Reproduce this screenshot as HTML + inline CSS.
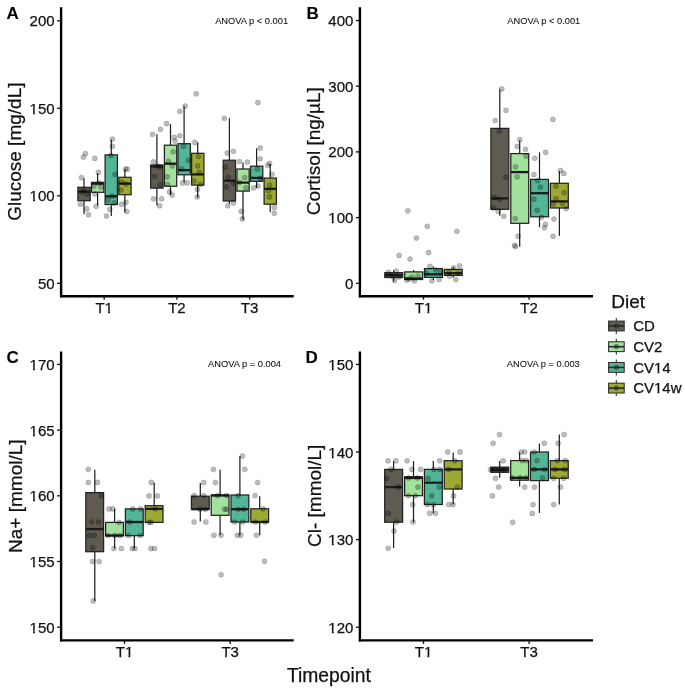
<!DOCTYPE html><html><head><meta charset="utf-8"><style>html,body{margin:0;padding:0;background:#fff;}svg{display:block;will-change:transform;}text{font-family:"Liberation Sans", sans-serif;stroke:#111;stroke-width:0.25px;}</style></head><body>
<svg width="685" height="690" viewBox="0 0 685 690">
<rect width="685" height="690" fill="#fff"/>
<line x1="84.0" y1="178.2" x2="84.0" y2="187.3" stroke="#222" stroke-width="1.25"/>
<line x1="84.0" y1="200.7" x2="84.0" y2="214.2" stroke="#222" stroke-width="1.25"/>
<rect x="77.9" y="187.3" width="12.3" height="13.4" fill="#5f5b51" stroke="#222" stroke-width="1.25"/>
<line x1="77.9" y1="191.6" x2="90.1" y2="191.6" stroke="#1c1c1c" stroke-width="2.3"/>
<line x1="97.6" y1="173.2" x2="97.6" y2="182.4" stroke="#222" stroke-width="1.25"/>
<line x1="97.6" y1="192.3" x2="97.6" y2="205.6" stroke="#222" stroke-width="1.25"/>
<rect x="91.5" y="182.4" width="12.3" height="9.9" fill="#a2e29c" stroke="#222" stroke-width="1.25"/>
<line x1="91.5" y1="183.6" x2="103.8" y2="183.6" stroke="#1c1c1c" stroke-width="2.3"/>
<line x1="111.3" y1="139.8" x2="111.3" y2="154.9" stroke="#222" stroke-width="1.25"/>
<line x1="111.3" y1="204.5" x2="111.3" y2="216.0" stroke="#222" stroke-width="1.25"/>
<rect x="105.1" y="154.9" width="12.3" height="49.6" fill="#52b598" stroke="#222" stroke-width="1.25"/>
<line x1="105.1" y1="196.3" x2="117.4" y2="196.3" stroke="#1c1c1c" stroke-width="2.3"/>
<line x1="124.9" y1="169.2" x2="124.9" y2="177.3" stroke="#222" stroke-width="1.25"/>
<line x1="124.9" y1="194.7" x2="124.9" y2="212.2" stroke="#222" stroke-width="1.25"/>
<rect x="118.8" y="177.3" width="12.3" height="17.4" fill="#9ea934" stroke="#222" stroke-width="1.25"/>
<line x1="118.8" y1="183.6" x2="131.0" y2="183.6" stroke="#1c1c1c" stroke-width="2.3"/>
<line x1="156.9" y1="134.3" x2="156.9" y2="165.0" stroke="#222" stroke-width="1.25"/>
<line x1="156.9" y1="188.1" x2="156.9" y2="205.4" stroke="#222" stroke-width="1.25"/>
<rect x="150.7" y="165.0" width="12.3" height="23.1" fill="#5f5b51" stroke="#222" stroke-width="1.25"/>
<line x1="150.7" y1="166.5" x2="163.0" y2="166.5" stroke="#1c1c1c" stroke-width="2.3"/>
<line x1="170.5" y1="124.0" x2="170.5" y2="145.2" stroke="#222" stroke-width="1.25"/>
<line x1="170.5" y1="186.2" x2="170.5" y2="195.1" stroke="#222" stroke-width="1.25"/>
<rect x="164.4" y="145.2" width="12.3" height="41.0" fill="#a2e29c" stroke="#222" stroke-width="1.25"/>
<line x1="164.4" y1="163.7" x2="176.6" y2="163.7" stroke="#1c1c1c" stroke-width="2.3"/>
<line x1="184.1" y1="106.3" x2="184.1" y2="143.7" stroke="#222" stroke-width="1.25"/>
<line x1="184.1" y1="174.8" x2="184.1" y2="182.3" stroke="#222" stroke-width="1.25"/>
<rect x="178.0" y="143.7" width="12.3" height="31.1" fill="#52b598" stroke="#222" stroke-width="1.25"/>
<line x1="178.0" y1="170.1" x2="190.2" y2="170.1" stroke="#1c1c1c" stroke-width="2.3"/>
<line x1="197.7" y1="142.4" x2="197.7" y2="153.3" stroke="#222" stroke-width="1.25"/>
<line x1="197.7" y1="185.1" x2="197.7" y2="197.5" stroke="#222" stroke-width="1.25"/>
<rect x="191.6" y="153.3" width="12.3" height="31.8" fill="#9ea934" stroke="#222" stroke-width="1.25"/>
<line x1="191.6" y1="174.4" x2="203.9" y2="174.4" stroke="#1c1c1c" stroke-width="2.3"/>
<line x1="229.4" y1="118.2" x2="229.4" y2="160.2" stroke="#222" stroke-width="1.25"/>
<line x1="229.4" y1="201.0" x2="229.4" y2="203.8" stroke="#222" stroke-width="1.25"/>
<rect x="223.2" y="160.2" width="12.3" height="40.8" fill="#5f5b51" stroke="#222" stroke-width="1.25"/>
<line x1="223.2" y1="180.7" x2="235.5" y2="180.7" stroke="#1c1c1c" stroke-width="2.3"/>
<line x1="243.0" y1="162.5" x2="243.0" y2="169.0" stroke="#222" stroke-width="1.25"/>
<line x1="243.0" y1="191.1" x2="243.0" y2="219.8" stroke="#222" stroke-width="1.25"/>
<rect x="236.9" y="169.0" width="12.3" height="22.1" fill="#a2e29c" stroke="#222" stroke-width="1.25"/>
<line x1="236.9" y1="182.6" x2="249.1" y2="182.6" stroke="#1c1c1c" stroke-width="2.3"/>
<line x1="256.6" y1="148.3" x2="256.6" y2="166.2" stroke="#222" stroke-width="1.25"/>
<line x1="256.6" y1="181.3" x2="256.6" y2="187.9" stroke="#222" stroke-width="1.25"/>
<rect x="250.5" y="166.2" width="12.3" height="15.1" fill="#52b598" stroke="#222" stroke-width="1.25"/>
<line x1="250.5" y1="177.9" x2="262.7" y2="177.9" stroke="#1c1c1c" stroke-width="2.3"/>
<line x1="270.2" y1="164.0" x2="270.2" y2="178.1" stroke="#222" stroke-width="1.25"/>
<line x1="270.2" y1="204.2" x2="270.2" y2="212.3" stroke="#222" stroke-width="1.25"/>
<rect x="264.1" y="178.1" width="12.3" height="26.1" fill="#9ea934" stroke="#222" stroke-width="1.25"/>
<line x1="264.1" y1="188.8" x2="276.4" y2="188.8" stroke="#1c1c1c" stroke-width="2.3"/>
<circle cx="85.4" cy="153.5" r="2.55" fill="#000" fill-opacity="0.26" stroke="#000" stroke-opacity="0.18" stroke-width="0.8"/>
<circle cx="83.4" cy="157.1" r="2.55" fill="#000" fill-opacity="0.26" stroke="#000" stroke-opacity="0.18" stroke-width="0.8"/>
<circle cx="81.5" cy="177.6" r="2.55" fill="#000" fill-opacity="0.26" stroke="#000" stroke-opacity="0.18" stroke-width="0.8"/>
<circle cx="80.4" cy="204.3" r="2.55" fill="#000" fill-opacity="0.26" stroke="#000" stroke-opacity="0.18" stroke-width="0.8"/>
<circle cx="86.7" cy="208.9" r="2.55" fill="#000" fill-opacity="0.26" stroke="#000" stroke-opacity="0.18" stroke-width="0.8"/>
<circle cx="88.5" cy="214.7" r="2.55" fill="#000" fill-opacity="0.26" stroke="#000" stroke-opacity="0.18" stroke-width="0.8"/>
<circle cx="82.0" cy="192.0" r="2.55" fill="#000" fill-opacity="0.26" stroke="#000" stroke-opacity="0.18" stroke-width="0.8"/>
<circle cx="87.0" cy="194.0" r="2.55" fill="#000" fill-opacity="0.26" stroke="#000" stroke-opacity="0.18" stroke-width="0.8"/>
<circle cx="84.0" cy="190.0" r="2.55" fill="#000" fill-opacity="0.26" stroke="#000" stroke-opacity="0.18" stroke-width="0.8"/>
<circle cx="94.8" cy="158.4" r="2.55" fill="#000" fill-opacity="0.26" stroke="#000" stroke-opacity="0.18" stroke-width="0.8"/>
<circle cx="98.4" cy="172.4" r="2.55" fill="#000" fill-opacity="0.26" stroke="#000" stroke-opacity="0.18" stroke-width="0.8"/>
<circle cx="96.1" cy="206.3" r="2.55" fill="#000" fill-opacity="0.26" stroke="#000" stroke-opacity="0.18" stroke-width="0.8"/>
<circle cx="94.0" cy="186.0" r="2.55" fill="#000" fill-opacity="0.26" stroke="#000" stroke-opacity="0.18" stroke-width="0.8"/>
<circle cx="99.0" cy="183.0" r="2.55" fill="#000" fill-opacity="0.26" stroke="#000" stroke-opacity="0.18" stroke-width="0.8"/>
<circle cx="95.0" cy="194.0" r="2.55" fill="#000" fill-opacity="0.26" stroke="#000" stroke-opacity="0.18" stroke-width="0.8"/>
<circle cx="101.0" cy="187.0" r="2.55" fill="#000" fill-opacity="0.26" stroke="#000" stroke-opacity="0.18" stroke-width="0.8"/>
<circle cx="112.4" cy="139.1" r="2.55" fill="#000" fill-opacity="0.26" stroke="#000" stroke-opacity="0.18" stroke-width="0.8"/>
<circle cx="112.4" cy="146.3" r="2.55" fill="#000" fill-opacity="0.26" stroke="#000" stroke-opacity="0.18" stroke-width="0.8"/>
<circle cx="115.0" cy="174.3" r="2.55" fill="#000" fill-opacity="0.26" stroke="#000" stroke-opacity="0.18" stroke-width="0.8"/>
<circle cx="109.8" cy="209.5" r="2.55" fill="#000" fill-opacity="0.26" stroke="#000" stroke-opacity="0.18" stroke-width="0.8"/>
<circle cx="106.5" cy="216.0" r="2.55" fill="#000" fill-opacity="0.26" stroke="#000" stroke-opacity="0.18" stroke-width="0.8"/>
<circle cx="111.0" cy="155.5" r="2.55" fill="#000" fill-opacity="0.26" stroke="#000" stroke-opacity="0.18" stroke-width="0.8"/>
<circle cx="108.0" cy="200.0" r="2.55" fill="#000" fill-opacity="0.26" stroke="#000" stroke-opacity="0.18" stroke-width="0.8"/>
<circle cx="114.0" cy="203.0" r="2.55" fill="#000" fill-opacity="0.26" stroke="#000" stroke-opacity="0.18" stroke-width="0.8"/>
<circle cx="112.0" cy="196.0" r="2.55" fill="#000" fill-opacity="0.26" stroke="#000" stroke-opacity="0.18" stroke-width="0.8"/>
<circle cx="125.4" cy="169.1" r="2.55" fill="#000" fill-opacity="0.26" stroke="#000" stroke-opacity="0.18" stroke-width="0.8"/>
<circle cx="127.4" cy="169.1" r="2.55" fill="#000" fill-opacity="0.26" stroke="#000" stroke-opacity="0.18" stroke-width="0.8"/>
<circle cx="121.5" cy="204.3" r="2.55" fill="#000" fill-opacity="0.26" stroke="#000" stroke-opacity="0.18" stroke-width="0.8"/>
<circle cx="126.0" cy="202.3" r="2.55" fill="#000" fill-opacity="0.26" stroke="#000" stroke-opacity="0.18" stroke-width="0.8"/>
<circle cx="126.7" cy="211.5" r="2.55" fill="#000" fill-opacity="0.26" stroke="#000" stroke-opacity="0.18" stroke-width="0.8"/>
<circle cx="122.0" cy="182.0" r="2.55" fill="#000" fill-opacity="0.26" stroke="#000" stroke-opacity="0.18" stroke-width="0.8"/>
<circle cx="126.0" cy="184.0" r="2.55" fill="#000" fill-opacity="0.26" stroke="#000" stroke-opacity="0.18" stroke-width="0.8"/>
<circle cx="121.0" cy="190.0" r="2.55" fill="#000" fill-opacity="0.26" stroke="#000" stroke-opacity="0.18" stroke-width="0.8"/>
<circle cx="152.5" cy="134.3" r="2.55" fill="#000" fill-opacity="0.26" stroke="#000" stroke-opacity="0.18" stroke-width="0.8"/>
<circle cx="160.4" cy="129.2" r="2.55" fill="#000" fill-opacity="0.26" stroke="#000" stroke-opacity="0.18" stroke-width="0.8"/>
<circle cx="166.6" cy="123.6" r="2.55" fill="#000" fill-opacity="0.26" stroke="#000" stroke-opacity="0.18" stroke-width="0.8"/>
<circle cx="179.8" cy="111.3" r="2.55" fill="#000" fill-opacity="0.26" stroke="#000" stroke-opacity="0.18" stroke-width="0.8"/>
<circle cx="185.1" cy="106.1" r="2.55" fill="#000" fill-opacity="0.26" stroke="#000" stroke-opacity="0.18" stroke-width="0.8"/>
<circle cx="196.2" cy="93.8" r="2.55" fill="#000" fill-opacity="0.26" stroke="#000" stroke-opacity="0.18" stroke-width="0.8"/>
<circle cx="174.2" cy="137.3" r="2.55" fill="#000" fill-opacity="0.26" stroke="#000" stroke-opacity="0.18" stroke-width="0.8"/>
<circle cx="175.1" cy="141.1" r="2.55" fill="#000" fill-opacity="0.26" stroke="#000" stroke-opacity="0.18" stroke-width="0.8"/>
<circle cx="179.8" cy="135.8" r="2.55" fill="#000" fill-opacity="0.26" stroke="#000" stroke-opacity="0.18" stroke-width="0.8"/>
<circle cx="194.9" cy="142.4" r="2.55" fill="#000" fill-opacity="0.26" stroke="#000" stroke-opacity="0.18" stroke-width="0.8"/>
<circle cx="153.5" cy="161.8" r="2.55" fill="#000" fill-opacity="0.26" stroke="#000" stroke-opacity="0.18" stroke-width="0.8"/>
<circle cx="153.5" cy="198.8" r="2.55" fill="#000" fill-opacity="0.26" stroke="#000" stroke-opacity="0.18" stroke-width="0.8"/>
<circle cx="161.6" cy="198.8" r="2.55" fill="#000" fill-opacity="0.26" stroke="#000" stroke-opacity="0.18" stroke-width="0.8"/>
<circle cx="159.7" cy="205.8" r="2.55" fill="#000" fill-opacity="0.26" stroke="#000" stroke-opacity="0.18" stroke-width="0.8"/>
<circle cx="169.5" cy="191.9" r="2.55" fill="#000" fill-opacity="0.26" stroke="#000" stroke-opacity="0.18" stroke-width="0.8"/>
<circle cx="172.3" cy="195.1" r="2.55" fill="#000" fill-opacity="0.26" stroke="#000" stroke-opacity="0.18" stroke-width="0.8"/>
<circle cx="182.6" cy="182.9" r="2.55" fill="#000" fill-opacity="0.26" stroke="#000" stroke-opacity="0.18" stroke-width="0.8"/>
<circle cx="187.3" cy="182.9" r="2.55" fill="#000" fill-opacity="0.26" stroke="#000" stroke-opacity="0.18" stroke-width="0.8"/>
<circle cx="197.3" cy="197.0" r="2.55" fill="#000" fill-opacity="0.26" stroke="#000" stroke-opacity="0.18" stroke-width="0.8"/>
<circle cx="197.3" cy="189.4" r="2.55" fill="#000" fill-opacity="0.26" stroke="#000" stroke-opacity="0.18" stroke-width="0.8"/>
<circle cx="154.4" cy="176.3" r="2.55" fill="#000" fill-opacity="0.26" stroke="#000" stroke-opacity="0.18" stroke-width="0.8"/>
<circle cx="160.1" cy="184.7" r="2.55" fill="#000" fill-opacity="0.26" stroke="#000" stroke-opacity="0.18" stroke-width="0.8"/>
<circle cx="173.2" cy="151.8" r="2.55" fill="#000" fill-opacity="0.26" stroke="#000" stroke-opacity="0.18" stroke-width="0.8"/>
<circle cx="168.5" cy="161.2" r="2.55" fill="#000" fill-opacity="0.26" stroke="#000" stroke-opacity="0.18" stroke-width="0.8"/>
<circle cx="172.3" cy="165.9" r="2.55" fill="#000" fill-opacity="0.26" stroke="#000" stroke-opacity="0.18" stroke-width="0.8"/>
<circle cx="167.2" cy="176.8" r="2.55" fill="#000" fill-opacity="0.26" stroke="#000" stroke-opacity="0.18" stroke-width="0.8"/>
<circle cx="167.6" cy="184.4" r="2.55" fill="#000" fill-opacity="0.26" stroke="#000" stroke-opacity="0.18" stroke-width="0.8"/>
<circle cx="183.6" cy="146.2" r="2.55" fill="#000" fill-opacity="0.26" stroke="#000" stroke-opacity="0.18" stroke-width="0.8"/>
<circle cx="188.3" cy="160.3" r="2.55" fill="#000" fill-opacity="0.26" stroke="#000" stroke-opacity="0.18" stroke-width="0.8"/>
<circle cx="181.7" cy="168.7" r="2.55" fill="#000" fill-opacity="0.26" stroke="#000" stroke-opacity="0.18" stroke-width="0.8"/>
<circle cx="198.6" cy="156.5" r="2.55" fill="#000" fill-opacity="0.26" stroke="#000" stroke-opacity="0.18" stroke-width="0.8"/>
<circle cx="197.7" cy="165.9" r="2.55" fill="#000" fill-opacity="0.26" stroke="#000" stroke-opacity="0.18" stroke-width="0.8"/>
<circle cx="199.2" cy="172.5" r="2.55" fill="#000" fill-opacity="0.26" stroke="#000" stroke-opacity="0.18" stroke-width="0.8"/>
<circle cx="193.9" cy="181.0" r="2.55" fill="#000" fill-opacity="0.26" stroke="#000" stroke-opacity="0.18" stroke-width="0.8"/>
<circle cx="200.5" cy="184.4" r="2.55" fill="#000" fill-opacity="0.26" stroke="#000" stroke-opacity="0.18" stroke-width="0.8"/>
<circle cx="157.0" cy="166.0" r="2.55" fill="#000" fill-opacity="0.26" stroke="#000" stroke-opacity="0.18" stroke-width="0.8"/>
<circle cx="160.0" cy="167.0" r="2.55" fill="#000" fill-opacity="0.26" stroke="#000" stroke-opacity="0.18" stroke-width="0.8"/>
<circle cx="224.4" cy="118.2" r="2.55" fill="#000" fill-opacity="0.26" stroke="#000" stroke-opacity="0.18" stroke-width="0.8"/>
<circle cx="257.9" cy="102.6" r="2.55" fill="#000" fill-opacity="0.26" stroke="#000" stroke-opacity="0.18" stroke-width="0.8"/>
<circle cx="227.2" cy="153.0" r="2.55" fill="#000" fill-opacity="0.26" stroke="#000" stroke-opacity="0.18" stroke-width="0.8"/>
<circle cx="233.4" cy="151.2" r="2.55" fill="#000" fill-opacity="0.26" stroke="#000" stroke-opacity="0.18" stroke-width="0.8"/>
<circle cx="239.5" cy="161.5" r="2.55" fill="#000" fill-opacity="0.26" stroke="#000" stroke-opacity="0.18" stroke-width="0.8"/>
<circle cx="247.4" cy="162.1" r="2.55" fill="#000" fill-opacity="0.26" stroke="#000" stroke-opacity="0.18" stroke-width="0.8"/>
<circle cx="260.2" cy="148.0" r="2.55" fill="#000" fill-opacity="0.26" stroke="#000" stroke-opacity="0.18" stroke-width="0.8"/>
<circle cx="260.2" cy="158.7" r="2.55" fill="#000" fill-opacity="0.26" stroke="#000" stroke-opacity="0.18" stroke-width="0.8"/>
<circle cx="267.7" cy="165.3" r="2.55" fill="#000" fill-opacity="0.26" stroke="#000" stroke-opacity="0.18" stroke-width="0.8"/>
<circle cx="269.6" cy="163.4" r="2.55" fill="#000" fill-opacity="0.26" stroke="#000" stroke-opacity="0.18" stroke-width="0.8"/>
<circle cx="272.0" cy="174.3" r="2.55" fill="#000" fill-opacity="0.26" stroke="#000" stroke-opacity="0.18" stroke-width="0.8"/>
<circle cx="227.8" cy="205.7" r="2.55" fill="#000" fill-opacity="0.26" stroke="#000" stroke-opacity="0.18" stroke-width="0.8"/>
<circle cx="233.4" cy="202.9" r="2.55" fill="#000" fill-opacity="0.26" stroke="#000" stroke-opacity="0.18" stroke-width="0.8"/>
<circle cx="241.3" cy="211.4" r="2.55" fill="#000" fill-opacity="0.26" stroke="#000" stroke-opacity="0.18" stroke-width="0.8"/>
<circle cx="242.3" cy="218.9" r="2.55" fill="#000" fill-opacity="0.26" stroke="#000" stroke-opacity="0.18" stroke-width="0.8"/>
<circle cx="253.6" cy="187.9" r="2.55" fill="#000" fill-opacity="0.26" stroke="#000" stroke-opacity="0.18" stroke-width="0.8"/>
<circle cx="257.9" cy="186.0" r="2.55" fill="#000" fill-opacity="0.26" stroke="#000" stroke-opacity="0.18" stroke-width="0.8"/>
<circle cx="274.3" cy="207.6" r="2.55" fill="#000" fill-opacity="0.26" stroke="#000" stroke-opacity="0.18" stroke-width="0.8"/>
<circle cx="274.3" cy="213.3" r="2.55" fill="#000" fill-opacity="0.26" stroke="#000" stroke-opacity="0.18" stroke-width="0.8"/>
<circle cx="225.3" cy="167.2" r="2.55" fill="#000" fill-opacity="0.26" stroke="#000" stroke-opacity="0.18" stroke-width="0.8"/>
<circle cx="228.2" cy="177.5" r="2.55" fill="#000" fill-opacity="0.26" stroke="#000" stroke-opacity="0.18" stroke-width="0.8"/>
<circle cx="226.3" cy="186.9" r="2.55" fill="#000" fill-opacity="0.26" stroke="#000" stroke-opacity="0.18" stroke-width="0.8"/>
<circle cx="233.4" cy="183.2" r="2.55" fill="#000" fill-opacity="0.26" stroke="#000" stroke-opacity="0.18" stroke-width="0.8"/>
<circle cx="244.7" cy="177.5" r="2.55" fill="#000" fill-opacity="0.26" stroke="#000" stroke-opacity="0.18" stroke-width="0.8"/>
<circle cx="239.5" cy="182.2" r="2.55" fill="#000" fill-opacity="0.26" stroke="#000" stroke-opacity="0.18" stroke-width="0.8"/>
<circle cx="246.0" cy="187.9" r="2.55" fill="#000" fill-opacity="0.26" stroke="#000" stroke-opacity="0.18" stroke-width="0.8"/>
<circle cx="257.3" cy="169.0" r="2.55" fill="#000" fill-opacity="0.26" stroke="#000" stroke-opacity="0.18" stroke-width="0.8"/>
<circle cx="260.2" cy="178.4" r="2.55" fill="#000" fill-opacity="0.26" stroke="#000" stroke-opacity="0.18" stroke-width="0.8"/>
<circle cx="269.6" cy="185.0" r="2.55" fill="#000" fill-opacity="0.26" stroke="#000" stroke-opacity="0.18" stroke-width="0.8"/>
<circle cx="269.6" cy="196.9" r="2.55" fill="#000" fill-opacity="0.26" stroke="#000" stroke-opacity="0.18" stroke-width="0.8"/>
<circle cx="268.6" cy="190.7" r="2.55" fill="#000" fill-opacity="0.26" stroke="#000" stroke-opacity="0.18" stroke-width="0.8"/>
<line x1="61.1" y1="7.2" x2="61.1" y2="297.2" stroke="#000" stroke-width="2.4"/>
<line x1="60.1" y1="296.2" x2="293.7" y2="296.2" stroke="#000" stroke-width="2.4"/>
<line x1="57.1" y1="283.3" x2="61.1" y2="283.3" stroke="#111" stroke-width="1.3"/>
<text transform="translate(54.6,288.8)" font-size="15" text-anchor="end" fill="#111">50</text>
<line x1="57.1" y1="195.8" x2="61.1" y2="195.8" stroke="#111" stroke-width="1.3"/>
<text transform="translate(54.6,201.3)" font-size="15" text-anchor="end" fill="#111">100</text>
<line x1="57.1" y1="108.3" x2="61.1" y2="108.3" stroke="#111" stroke-width="1.3"/>
<text transform="translate(54.6,113.8)" font-size="15" text-anchor="end" fill="#111">150</text>
<line x1="57.1" y1="20.8" x2="61.1" y2="20.8" stroke="#111" stroke-width="1.3"/>
<text transform="translate(54.6,26.3)" font-size="15" text-anchor="end" fill="#111">200</text>
<line x1="104.2" y1="296.2" x2="104.2" y2="299.7" stroke="#111" stroke-width="1.3"/>
<text transform="translate(104.2,313.2)" font-size="15" text-anchor="middle" fill="#111">T1</text>
<line x1="176.9" y1="296.2" x2="176.9" y2="299.7" stroke="#111" stroke-width="1.3"/>
<text transform="translate(176.9,313.2)" font-size="15" text-anchor="middle" fill="#111">T2</text>
<line x1="249.6" y1="296.2" x2="249.6" y2="299.7" stroke="#111" stroke-width="1.3"/>
<text transform="translate(249.6,313.2)" font-size="15" text-anchor="middle" fill="#111">T3</text>
<line x1="393.7" y1="270.3" x2="393.7" y2="272.7" stroke="#222" stroke-width="1.25"/>
<line x1="393.7" y1="277.5" x2="393.7" y2="281.5" stroke="#222" stroke-width="1.25"/>
<rect x="384.8" y="272.7" width="17.9" height="4.8" fill="#5f5b51" stroke="#222" stroke-width="1.25"/>
<line x1="384.8" y1="275.2" x2="402.7" y2="275.2" stroke="#1c1c1c" stroke-width="2.3"/>
<line x1="413.6" y1="270.0" x2="413.6" y2="271.9" stroke="#222" stroke-width="1.25"/>
<line x1="413.6" y1="279.5" x2="413.6" y2="280.5" stroke="#222" stroke-width="1.25"/>
<rect x="404.7" y="271.9" width="17.9" height="7.6" fill="#a2e29c" stroke="#222" stroke-width="1.25"/>
<line x1="404.7" y1="278.6" x2="422.5" y2="278.6" stroke="#1c1c1c" stroke-width="2.3"/>
<line x1="433.4" y1="266.5" x2="433.4" y2="268.6" stroke="#222" stroke-width="1.25"/>
<line x1="433.4" y1="277.4" x2="433.4" y2="280.1" stroke="#222" stroke-width="1.25"/>
<rect x="424.5" y="268.6" width="17.9" height="8.8" fill="#52b598" stroke="#222" stroke-width="1.25"/>
<line x1="424.5" y1="274.3" x2="442.3" y2="274.3" stroke="#1c1c1c" stroke-width="2.3"/>
<line x1="453.3" y1="267.0" x2="453.3" y2="269.4" stroke="#222" stroke-width="1.25"/>
<line x1="453.3" y1="275.4" x2="453.3" y2="277.5" stroke="#222" stroke-width="1.25"/>
<rect x="444.3" y="269.4" width="17.9" height="6.0" fill="#9ea934" stroke="#222" stroke-width="1.25"/>
<line x1="444.3" y1="273.2" x2="462.2" y2="273.2" stroke="#1c1c1c" stroke-width="2.3"/>
<line x1="499.8" y1="89.2" x2="499.8" y2="128.4" stroke="#222" stroke-width="1.25"/>
<line x1="499.8" y1="209.3" x2="499.8" y2="215.8" stroke="#222" stroke-width="1.25"/>
<rect x="490.9" y="128.4" width="17.9" height="80.9" fill="#5f5b51" stroke="#222" stroke-width="1.25"/>
<line x1="490.9" y1="198.4" x2="508.8" y2="198.4" stroke="#1c1c1c" stroke-width="2.3"/>
<line x1="519.7" y1="140.4" x2="519.7" y2="153.6" stroke="#222" stroke-width="1.25"/>
<line x1="519.7" y1="223.3" x2="519.7" y2="246.7" stroke="#222" stroke-width="1.25"/>
<rect x="510.8" y="153.6" width="17.9" height="69.7" fill="#a2e29c" stroke="#222" stroke-width="1.25"/>
<line x1="510.8" y1="172.1" x2="528.6" y2="172.1" stroke="#1c1c1c" stroke-width="2.3"/>
<line x1="539.5" y1="152.3" x2="539.5" y2="179.4" stroke="#222" stroke-width="1.25"/>
<line x1="539.5" y1="216.8" x2="539.5" y2="227.3" stroke="#222" stroke-width="1.25"/>
<rect x="530.6" y="179.4" width="17.9" height="37.4" fill="#52b598" stroke="#222" stroke-width="1.25"/>
<line x1="530.6" y1="193.2" x2="548.4" y2="193.2" stroke="#1c1c1c" stroke-width="2.3"/>
<line x1="559.4" y1="171.2" x2="559.4" y2="183.3" stroke="#222" stroke-width="1.25"/>
<line x1="559.4" y1="208.0" x2="559.4" y2="235.9" stroke="#222" stroke-width="1.25"/>
<rect x="550.4" y="183.3" width="17.9" height="24.7" fill="#9ea934" stroke="#222" stroke-width="1.25"/>
<line x1="550.4" y1="201.4" x2="568.3" y2="201.4" stroke="#1c1c1c" stroke-width="2.3"/>
<circle cx="407.9" cy="210.8" r="2.55" fill="#000" fill-opacity="0.26" stroke="#000" stroke-opacity="0.18" stroke-width="0.8"/>
<circle cx="427.3" cy="226.3" r="2.55" fill="#000" fill-opacity="0.26" stroke="#000" stroke-opacity="0.18" stroke-width="0.8"/>
<circle cx="456.9" cy="231.3" r="2.55" fill="#000" fill-opacity="0.26" stroke="#000" stroke-opacity="0.18" stroke-width="0.8"/>
<circle cx="416.4" cy="238.1" r="2.55" fill="#000" fill-opacity="0.26" stroke="#000" stroke-opacity="0.18" stroke-width="0.8"/>
<circle cx="399.1" cy="255.4" r="2.55" fill="#000" fill-opacity="0.26" stroke="#000" stroke-opacity="0.18" stroke-width="0.8"/>
<circle cx="410.0" cy="259.1" r="2.55" fill="#000" fill-opacity="0.26" stroke="#000" stroke-opacity="0.18" stroke-width="0.8"/>
<circle cx="428.6" cy="252.6" r="2.55" fill="#000" fill-opacity="0.26" stroke="#000" stroke-opacity="0.18" stroke-width="0.8"/>
<circle cx="459.5" cy="265.7" r="2.55" fill="#000" fill-opacity="0.26" stroke="#000" stroke-opacity="0.18" stroke-width="0.8"/>
<circle cx="429.9" cy="266.4" r="2.55" fill="#000" fill-opacity="0.26" stroke="#000" stroke-opacity="0.18" stroke-width="0.8"/>
<circle cx="394.5" cy="280.4" r="2.55" fill="#000" fill-opacity="0.26" stroke="#000" stroke-opacity="0.18" stroke-width="0.8"/>
<circle cx="396.4" cy="271.0" r="2.55" fill="#000" fill-opacity="0.26" stroke="#000" stroke-opacity="0.18" stroke-width="0.8"/>
<circle cx="388.5" cy="272.3" r="2.55" fill="#000" fill-opacity="0.26" stroke="#000" stroke-opacity="0.18" stroke-width="0.8"/>
<circle cx="414.4" cy="280.8" r="2.55" fill="#000" fill-opacity="0.26" stroke="#000" stroke-opacity="0.18" stroke-width="0.8"/>
<circle cx="406.9" cy="280.1" r="2.55" fill="#000" fill-opacity="0.26" stroke="#000" stroke-opacity="0.18" stroke-width="0.8"/>
<circle cx="431.9" cy="280.8" r="2.55" fill="#000" fill-opacity="0.26" stroke="#000" stroke-opacity="0.18" stroke-width="0.8"/>
<circle cx="439.1" cy="279.5" r="2.55" fill="#000" fill-opacity="0.26" stroke="#000" stroke-opacity="0.18" stroke-width="0.8"/>
<circle cx="455.9" cy="279.5" r="2.55" fill="#000" fill-opacity="0.26" stroke="#000" stroke-opacity="0.18" stroke-width="0.8"/>
<circle cx="449.6" cy="276.2" r="2.55" fill="#000" fill-opacity="0.26" stroke="#000" stroke-opacity="0.18" stroke-width="0.8"/>
<circle cx="453.6" cy="267.7" r="2.55" fill="#000" fill-opacity="0.26" stroke="#000" stroke-opacity="0.18" stroke-width="0.8"/>
<circle cx="392.0" cy="276.0" r="2.55" fill="#000" fill-opacity="0.26" stroke="#000" stroke-opacity="0.18" stroke-width="0.8"/>
<circle cx="399.0" cy="277.0" r="2.55" fill="#000" fill-opacity="0.26" stroke="#000" stroke-opacity="0.18" stroke-width="0.8"/>
<circle cx="412.0" cy="277.0" r="2.55" fill="#000" fill-opacity="0.26" stroke="#000" stroke-opacity="0.18" stroke-width="0.8"/>
<circle cx="418.0" cy="276.0" r="2.55" fill="#000" fill-opacity="0.26" stroke="#000" stroke-opacity="0.18" stroke-width="0.8"/>
<circle cx="436.0" cy="270.0" r="2.55" fill="#000" fill-opacity="0.26" stroke="#000" stroke-opacity="0.18" stroke-width="0.8"/>
<circle cx="441.0" cy="272.0" r="2.55" fill="#000" fill-opacity="0.26" stroke="#000" stroke-opacity="0.18" stroke-width="0.8"/>
<circle cx="449.0" cy="272.0" r="2.55" fill="#000" fill-opacity="0.26" stroke="#000" stroke-opacity="0.18" stroke-width="0.8"/>
<circle cx="458.0" cy="273.0" r="2.55" fill="#000" fill-opacity="0.26" stroke="#000" stroke-opacity="0.18" stroke-width="0.8"/>
<circle cx="409.0" cy="279.0" r="2.55" fill="#000" fill-opacity="0.26" stroke="#000" stroke-opacity="0.18" stroke-width="0.8"/>
<circle cx="426.0" cy="273.0" r="2.55" fill="#000" fill-opacity="0.26" stroke="#000" stroke-opacity="0.18" stroke-width="0.8"/>
<circle cx="501.8" cy="88.9" r="2.55" fill="#000" fill-opacity="0.26" stroke="#000" stroke-opacity="0.18" stroke-width="0.8"/>
<circle cx="506.0" cy="110.2" r="2.55" fill="#000" fill-opacity="0.26" stroke="#000" stroke-opacity="0.18" stroke-width="0.8"/>
<circle cx="495.2" cy="120.5" r="2.55" fill="#000" fill-opacity="0.26" stroke="#000" stroke-opacity="0.18" stroke-width="0.8"/>
<circle cx="499.5" cy="131.0" r="2.55" fill="#000" fill-opacity="0.26" stroke="#000" stroke-opacity="0.18" stroke-width="0.8"/>
<circle cx="519.8" cy="139.5" r="2.55" fill="#000" fill-opacity="0.26" stroke="#000" stroke-opacity="0.18" stroke-width="0.8"/>
<circle cx="517.2" cy="146.4" r="2.55" fill="#000" fill-opacity="0.26" stroke="#000" stroke-opacity="0.18" stroke-width="0.8"/>
<circle cx="525.5" cy="149.2" r="2.55" fill="#000" fill-opacity="0.26" stroke="#000" stroke-opacity="0.18" stroke-width="0.8"/>
<circle cx="526.0" cy="155.9" r="2.55" fill="#000" fill-opacity="0.26" stroke="#000" stroke-opacity="0.18" stroke-width="0.8"/>
<circle cx="515.5" cy="166.7" r="2.55" fill="#000" fill-opacity="0.26" stroke="#000" stroke-opacity="0.18" stroke-width="0.8"/>
<circle cx="534.7" cy="158.2" r="2.55" fill="#000" fill-opacity="0.26" stroke="#000" stroke-opacity="0.18" stroke-width="0.8"/>
<circle cx="545.7" cy="152.3" r="2.55" fill="#000" fill-opacity="0.26" stroke="#000" stroke-opacity="0.18" stroke-width="0.8"/>
<circle cx="552.9" cy="119.4" r="2.55" fill="#000" fill-opacity="0.26" stroke="#000" stroke-opacity="0.18" stroke-width="0.8"/>
<circle cx="517.2" cy="176.8" r="2.55" fill="#000" fill-opacity="0.26" stroke="#000" stroke-opacity="0.18" stroke-width="0.8"/>
<circle cx="506.0" cy="177.1" r="2.55" fill="#000" fill-opacity="0.26" stroke="#000" stroke-opacity="0.18" stroke-width="0.8"/>
<circle cx="494.5" cy="197.4" r="2.55" fill="#000" fill-opacity="0.26" stroke="#000" stroke-opacity="0.18" stroke-width="0.8"/>
<circle cx="499.5" cy="199.2" r="2.55" fill="#000" fill-opacity="0.26" stroke="#000" stroke-opacity="0.18" stroke-width="0.8"/>
<circle cx="493.5" cy="208.0" r="2.55" fill="#000" fill-opacity="0.26" stroke="#000" stroke-opacity="0.18" stroke-width="0.8"/>
<circle cx="498.1" cy="211.2" r="2.55" fill="#000" fill-opacity="0.26" stroke="#000" stroke-opacity="0.18" stroke-width="0.8"/>
<circle cx="503.8" cy="216.2" r="2.55" fill="#000" fill-opacity="0.26" stroke="#000" stroke-opacity="0.18" stroke-width="0.8"/>
<circle cx="515.2" cy="218.5" r="2.55" fill="#000" fill-opacity="0.26" stroke="#000" stroke-opacity="0.18" stroke-width="0.8"/>
<circle cx="518.1" cy="236.2" r="2.55" fill="#000" fill-opacity="0.26" stroke="#000" stroke-opacity="0.18" stroke-width="0.8"/>
<circle cx="514.6" cy="245.4" r="2.55" fill="#000" fill-opacity="0.26" stroke="#000" stroke-opacity="0.18" stroke-width="0.8"/>
<circle cx="515.5" cy="246.5" r="2.55" fill="#000" fill-opacity="0.26" stroke="#000" stroke-opacity="0.18" stroke-width="0.8"/>
<circle cx="533.9" cy="174.5" r="2.55" fill="#000" fill-opacity="0.26" stroke="#000" stroke-opacity="0.18" stroke-width="0.8"/>
<circle cx="537.6" cy="180.8" r="2.55" fill="#000" fill-opacity="0.26" stroke="#000" stroke-opacity="0.18" stroke-width="0.8"/>
<circle cx="540.4" cy="187.3" r="2.55" fill="#000" fill-opacity="0.26" stroke="#000" stroke-opacity="0.18" stroke-width="0.8"/>
<circle cx="533.9" cy="199.2" r="2.55" fill="#000" fill-opacity="0.26" stroke="#000" stroke-opacity="0.18" stroke-width="0.8"/>
<circle cx="537.3" cy="210.2" r="2.55" fill="#000" fill-opacity="0.26" stroke="#000" stroke-opacity="0.18" stroke-width="0.8"/>
<circle cx="541.5" cy="217.2" r="2.55" fill="#000" fill-opacity="0.26" stroke="#000" stroke-opacity="0.18" stroke-width="0.8"/>
<circle cx="545.4" cy="224.4" r="2.55" fill="#000" fill-opacity="0.26" stroke="#000" stroke-opacity="0.18" stroke-width="0.8"/>
<circle cx="544.4" cy="227.7" r="2.55" fill="#000" fill-opacity="0.26" stroke="#000" stroke-opacity="0.18" stroke-width="0.8"/>
<circle cx="560.5" cy="170.5" r="2.55" fill="#000" fill-opacity="0.26" stroke="#000" stroke-opacity="0.18" stroke-width="0.8"/>
<circle cx="563.8" cy="173.4" r="2.55" fill="#000" fill-opacity="0.26" stroke="#000" stroke-opacity="0.18" stroke-width="0.8"/>
<circle cx="556.0" cy="186.3" r="2.55" fill="#000" fill-opacity="0.26" stroke="#000" stroke-opacity="0.18" stroke-width="0.8"/>
<circle cx="564.1" cy="192.6" r="2.55" fill="#000" fill-opacity="0.26" stroke="#000" stroke-opacity="0.18" stroke-width="0.8"/>
<circle cx="556.0" cy="198.8" r="2.55" fill="#000" fill-opacity="0.26" stroke="#000" stroke-opacity="0.18" stroke-width="0.8"/>
<circle cx="562.5" cy="203.4" r="2.55" fill="#000" fill-opacity="0.26" stroke="#000" stroke-opacity="0.18" stroke-width="0.8"/>
<circle cx="553.3" cy="204.0" r="2.55" fill="#000" fill-opacity="0.26" stroke="#000" stroke-opacity="0.18" stroke-width="0.8"/>
<circle cx="566.2" cy="208.6" r="2.55" fill="#000" fill-opacity="0.26" stroke="#000" stroke-opacity="0.18" stroke-width="0.8"/>
<circle cx="554.0" cy="219.1" r="2.55" fill="#000" fill-opacity="0.26" stroke="#000" stroke-opacity="0.18" stroke-width="0.8"/>
<circle cx="553.1" cy="236.2" r="2.55" fill="#000" fill-opacity="0.26" stroke="#000" stroke-opacity="0.18" stroke-width="0.8"/>
<line x1="359.9" y1="7.2" x2="359.9" y2="297.2" stroke="#000" stroke-width="2.4"/>
<line x1="358.9" y1="296.2" x2="593.0" y2="296.2" stroke="#000" stroke-width="2.4"/>
<line x1="355.9" y1="283.3" x2="359.9" y2="283.3" stroke="#111" stroke-width="1.3"/>
<text transform="translate(353.4,288.8)" font-size="15" text-anchor="end" fill="#111">0</text>
<line x1="355.9" y1="217.6" x2="359.9" y2="217.6" stroke="#111" stroke-width="1.3"/>
<text transform="translate(353.4,223.1)" font-size="15" text-anchor="end" fill="#111">100</text>
<line x1="355.9" y1="151.9" x2="359.9" y2="151.9" stroke="#111" stroke-width="1.3"/>
<text transform="translate(353.4,157.4)" font-size="15" text-anchor="end" fill="#111">200</text>
<line x1="355.9" y1="86.2" x2="359.9" y2="86.2" stroke="#111" stroke-width="1.3"/>
<text transform="translate(353.4,91.7)" font-size="15" text-anchor="end" fill="#111">300</text>
<line x1="355.9" y1="20.5" x2="359.9" y2="20.5" stroke="#111" stroke-width="1.3"/>
<text transform="translate(353.4,26.0)" font-size="15" text-anchor="end" fill="#111">400</text>
<line x1="423.5" y1="296.2" x2="423.5" y2="299.7" stroke="#111" stroke-width="1.3"/>
<text transform="translate(423.5,313.2)" font-size="15" text-anchor="middle" fill="#111">T1</text>
<line x1="529.1" y1="296.2" x2="529.1" y2="299.7" stroke="#111" stroke-width="1.3"/>
<text transform="translate(529.1,313.2)" font-size="15" text-anchor="middle" fill="#111">T2</text>
<line x1="94.8" y1="469.8" x2="94.8" y2="492.6" stroke="#222" stroke-width="1.25"/>
<line x1="94.8" y1="551.7" x2="94.8" y2="600.9" stroke="#222" stroke-width="1.25"/>
<rect x="85.8" y="492.6" width="17.8" height="59.1" fill="#5f5b51" stroke="#222" stroke-width="1.25"/>
<line x1="85.8" y1="529.1" x2="103.7" y2="529.1" stroke="#1c1c1c" stroke-width="2.3"/>
<line x1="114.6" y1="508.9" x2="114.6" y2="522.4" stroke="#222" stroke-width="1.25"/>
<line x1="114.6" y1="535.7" x2="114.6" y2="548.5" stroke="#222" stroke-width="1.25"/>
<rect x="105.6" y="522.4" width="17.8" height="13.3" fill="#a2e29c" stroke="#222" stroke-width="1.25"/>
<line x1="105.6" y1="535.5" x2="123.5" y2="535.5" stroke="#1c1c1c" stroke-width="2.3"/>
<line x1="134.3" y1="535.7" x2="134.3" y2="548.5" stroke="#222" stroke-width="1.25"/>
<rect x="125.4" y="508.9" width="17.8" height="26.8" fill="#52b598" stroke="#222" stroke-width="1.25"/>
<line x1="125.4" y1="522.0" x2="143.3" y2="522.0" stroke="#1c1c1c" stroke-width="2.3"/>
<line x1="154.2" y1="482.8" x2="154.2" y2="505.7" stroke="#222" stroke-width="1.25"/>
<rect x="145.2" y="505.7" width="17.8" height="16.7" fill="#9ea934" stroke="#222" stroke-width="1.25"/>
<line x1="145.2" y1="508.9" x2="163.1" y2="508.9" stroke="#1c1c1c" stroke-width="2.3"/>
<line x1="200.3" y1="483.1" x2="200.3" y2="496.2" stroke="#222" stroke-width="1.25"/>
<line x1="200.3" y1="509.2" x2="200.3" y2="521.4" stroke="#222" stroke-width="1.25"/>
<rect x="191.4" y="496.2" width="17.8" height="13.0" fill="#5f5b51" stroke="#222" stroke-width="1.25"/>
<line x1="191.4" y1="509.2" x2="209.2" y2="509.2" stroke="#1c1c1c" stroke-width="2.3"/>
<line x1="220.1" y1="469.7" x2="220.1" y2="495.0" stroke="#222" stroke-width="1.25"/>
<line x1="220.1" y1="515.3" x2="220.1" y2="535.2" stroke="#222" stroke-width="1.25"/>
<rect x="211.2" y="495.0" width="17.8" height="20.3" fill="#a2e29c" stroke="#222" stroke-width="1.25"/>
<line x1="211.2" y1="495.5" x2="229.0" y2="495.5" stroke="#1c1c1c" stroke-width="2.3"/>
<line x1="239.9" y1="456.1" x2="239.9" y2="495.0" stroke="#222" stroke-width="1.25"/>
<line x1="239.9" y1="522.0" x2="239.9" y2="535.2" stroke="#222" stroke-width="1.25"/>
<rect x="231.0" y="495.0" width="17.8" height="27.0" fill="#52b598" stroke="#222" stroke-width="1.25"/>
<line x1="231.0" y1="509.2" x2="248.8" y2="509.2" stroke="#1c1c1c" stroke-width="2.3"/>
<line x1="259.7" y1="496.2" x2="259.7" y2="508.8" stroke="#222" stroke-width="1.25"/>
<line x1="259.7" y1="522.0" x2="259.7" y2="535.2" stroke="#222" stroke-width="1.25"/>
<rect x="250.8" y="508.8" width="17.8" height="13.2" fill="#9ea934" stroke="#222" stroke-width="1.25"/>
<line x1="250.8" y1="522.0" x2="268.6" y2="522.0" stroke="#1c1c1c" stroke-width="2.3"/>
<circle cx="88.3" cy="469.3" r="2.55" fill="#000" fill-opacity="0.26" stroke="#000" stroke-opacity="0.18" stroke-width="0.8"/>
<circle cx="88.3" cy="482.4" r="2.55" fill="#000" fill-opacity="0.26" stroke="#000" stroke-opacity="0.18" stroke-width="0.8"/>
<circle cx="97.4" cy="482.4" r="2.55" fill="#000" fill-opacity="0.26" stroke="#000" stroke-opacity="0.18" stroke-width="0.8"/>
<circle cx="101.3" cy="495.9" r="2.55" fill="#000" fill-opacity="0.26" stroke="#000" stroke-opacity="0.18" stroke-width="0.8"/>
<circle cx="91.5" cy="522.0" r="2.55" fill="#000" fill-opacity="0.26" stroke="#000" stroke-opacity="0.18" stroke-width="0.8"/>
<circle cx="98.5" cy="522.0" r="2.55" fill="#000" fill-opacity="0.26" stroke="#000" stroke-opacity="0.18" stroke-width="0.8"/>
<circle cx="89.3" cy="535.4" r="2.55" fill="#000" fill-opacity="0.26" stroke="#000" stroke-opacity="0.18" stroke-width="0.8"/>
<circle cx="94.3" cy="535.4" r="2.55" fill="#000" fill-opacity="0.26" stroke="#000" stroke-opacity="0.18" stroke-width="0.8"/>
<circle cx="92.6" cy="548.0" r="2.55" fill="#000" fill-opacity="0.26" stroke="#000" stroke-opacity="0.18" stroke-width="0.8"/>
<circle cx="92.6" cy="561.5" r="2.55" fill="#000" fill-opacity="0.26" stroke="#000" stroke-opacity="0.18" stroke-width="0.8"/>
<circle cx="99.1" cy="561.5" r="2.55" fill="#000" fill-opacity="0.26" stroke="#000" stroke-opacity="0.18" stroke-width="0.8"/>
<circle cx="93.3" cy="600.9" r="2.55" fill="#000" fill-opacity="0.26" stroke="#000" stroke-opacity="0.18" stroke-width="0.8"/>
<circle cx="108.9" cy="508.9" r="2.55" fill="#000" fill-opacity="0.26" stroke="#000" stroke-opacity="0.18" stroke-width="0.8"/>
<circle cx="112.8" cy="508.9" r="2.55" fill="#000" fill-opacity="0.26" stroke="#000" stroke-opacity="0.18" stroke-width="0.8"/>
<circle cx="119.1" cy="522.4" r="2.55" fill="#000" fill-opacity="0.26" stroke="#000" stroke-opacity="0.18" stroke-width="0.8"/>
<circle cx="108.0" cy="535.5" r="2.55" fill="#000" fill-opacity="0.26" stroke="#000" stroke-opacity="0.18" stroke-width="0.8"/>
<circle cx="115.0" cy="535.5" r="2.55" fill="#000" fill-opacity="0.26" stroke="#000" stroke-opacity="0.18" stroke-width="0.8"/>
<circle cx="120.0" cy="535.5" r="2.55" fill="#000" fill-opacity="0.26" stroke="#000" stroke-opacity="0.18" stroke-width="0.8"/>
<circle cx="113.9" cy="548.5" r="2.55" fill="#000" fill-opacity="0.26" stroke="#000" stroke-opacity="0.18" stroke-width="0.8"/>
<circle cx="121.3" cy="548.5" r="2.55" fill="#000" fill-opacity="0.26" stroke="#000" stroke-opacity="0.18" stroke-width="0.8"/>
<circle cx="132.8" cy="508.9" r="2.55" fill="#000" fill-opacity="0.26" stroke="#000" stroke-opacity="0.18" stroke-width="0.8"/>
<circle cx="140.4" cy="508.9" r="2.55" fill="#000" fill-opacity="0.26" stroke="#000" stroke-opacity="0.18" stroke-width="0.8"/>
<circle cx="129.6" cy="522.0" r="2.55" fill="#000" fill-opacity="0.26" stroke="#000" stroke-opacity="0.18" stroke-width="0.8"/>
<circle cx="128.5" cy="535.5" r="2.55" fill="#000" fill-opacity="0.26" stroke="#000" stroke-opacity="0.18" stroke-width="0.8"/>
<circle cx="140.0" cy="535.5" r="2.55" fill="#000" fill-opacity="0.26" stroke="#000" stroke-opacity="0.18" stroke-width="0.8"/>
<circle cx="132.4" cy="548.5" r="2.55" fill="#000" fill-opacity="0.26" stroke="#000" stroke-opacity="0.18" stroke-width="0.8"/>
<circle cx="135.0" cy="548.5" r="2.55" fill="#000" fill-opacity="0.26" stroke="#000" stroke-opacity="0.18" stroke-width="0.8"/>
<circle cx="151.3" cy="482.4" r="2.55" fill="#000" fill-opacity="0.26" stroke="#000" stroke-opacity="0.18" stroke-width="0.8"/>
<circle cx="149.1" cy="495.9" r="2.55" fill="#000" fill-opacity="0.26" stroke="#000" stroke-opacity="0.18" stroke-width="0.8"/>
<circle cx="157.4" cy="495.9" r="2.55" fill="#000" fill-opacity="0.26" stroke="#000" stroke-opacity="0.18" stroke-width="0.8"/>
<circle cx="155.2" cy="508.9" r="2.55" fill="#000" fill-opacity="0.26" stroke="#000" stroke-opacity="0.18" stroke-width="0.8"/>
<circle cx="149.0" cy="522.4" r="2.55" fill="#000" fill-opacity="0.26" stroke="#000" stroke-opacity="0.18" stroke-width="0.8"/>
<circle cx="151.0" cy="522.4" r="2.55" fill="#000" fill-opacity="0.26" stroke="#000" stroke-opacity="0.18" stroke-width="0.8"/>
<circle cx="150.9" cy="548.5" r="2.55" fill="#000" fill-opacity="0.26" stroke="#000" stroke-opacity="0.18" stroke-width="0.8"/>
<circle cx="154.6" cy="548.5" r="2.55" fill="#000" fill-opacity="0.26" stroke="#000" stroke-opacity="0.18" stroke-width="0.8"/>
<circle cx="203.7" cy="482.5" r="2.55" fill="#000" fill-opacity="0.26" stroke="#000" stroke-opacity="0.18" stroke-width="0.8"/>
<circle cx="194.1" cy="495.6" r="2.55" fill="#000" fill-opacity="0.26" stroke="#000" stroke-opacity="0.18" stroke-width="0.8"/>
<circle cx="203.7" cy="495.6" r="2.55" fill="#000" fill-opacity="0.26" stroke="#000" stroke-opacity="0.18" stroke-width="0.8"/>
<circle cx="200.0" cy="509.2" r="2.55" fill="#000" fill-opacity="0.26" stroke="#000" stroke-opacity="0.18" stroke-width="0.8"/>
<circle cx="205.3" cy="509.2" r="2.55" fill="#000" fill-opacity="0.26" stroke="#000" stroke-opacity="0.18" stroke-width="0.8"/>
<circle cx="194.1" cy="522.0" r="2.55" fill="#000" fill-opacity="0.26" stroke="#000" stroke-opacity="0.18" stroke-width="0.8"/>
<circle cx="205.9" cy="522.0" r="2.55" fill="#000" fill-opacity="0.26" stroke="#000" stroke-opacity="0.18" stroke-width="0.8"/>
<circle cx="213.4" cy="469.3" r="2.55" fill="#000" fill-opacity="0.26" stroke="#000" stroke-opacity="0.18" stroke-width="0.8"/>
<circle cx="215.4" cy="482.5" r="2.55" fill="#000" fill-opacity="0.26" stroke="#000" stroke-opacity="0.18" stroke-width="0.8"/>
<circle cx="217.5" cy="495.6" r="2.55" fill="#000" fill-opacity="0.26" stroke="#000" stroke-opacity="0.18" stroke-width="0.8"/>
<circle cx="226.6" cy="495.6" r="2.55" fill="#000" fill-opacity="0.26" stroke="#000" stroke-opacity="0.18" stroke-width="0.8"/>
<circle cx="224.6" cy="509.2" r="2.55" fill="#000" fill-opacity="0.26" stroke="#000" stroke-opacity="0.18" stroke-width="0.8"/>
<circle cx="226.6" cy="509.2" r="2.55" fill="#000" fill-opacity="0.26" stroke="#000" stroke-opacity="0.18" stroke-width="0.8"/>
<circle cx="214.0" cy="535.2" r="2.55" fill="#000" fill-opacity="0.26" stroke="#000" stroke-opacity="0.18" stroke-width="0.8"/>
<circle cx="221.1" cy="535.2" r="2.55" fill="#000" fill-opacity="0.26" stroke="#000" stroke-opacity="0.18" stroke-width="0.8"/>
<circle cx="221.1" cy="574.7" r="2.55" fill="#000" fill-opacity="0.26" stroke="#000" stroke-opacity="0.18" stroke-width="0.8"/>
<circle cx="242.4" cy="456.1" r="2.55" fill="#000" fill-opacity="0.26" stroke="#000" stroke-opacity="0.18" stroke-width="0.8"/>
<circle cx="244.8" cy="469.3" r="2.55" fill="#000" fill-opacity="0.26" stroke="#000" stroke-opacity="0.18" stroke-width="0.8"/>
<circle cx="238.1" cy="495.6" r="2.55" fill="#000" fill-opacity="0.26" stroke="#000" stroke-opacity="0.18" stroke-width="0.8"/>
<circle cx="238.1" cy="509.2" r="2.55" fill="#000" fill-opacity="0.26" stroke="#000" stroke-opacity="0.18" stroke-width="0.8"/>
<circle cx="243.8" cy="509.2" r="2.55" fill="#000" fill-opacity="0.26" stroke="#000" stroke-opacity="0.18" stroke-width="0.8"/>
<circle cx="234.7" cy="522.0" r="2.55" fill="#000" fill-opacity="0.26" stroke="#000" stroke-opacity="0.18" stroke-width="0.8"/>
<circle cx="242.8" cy="522.0" r="2.55" fill="#000" fill-opacity="0.26" stroke="#000" stroke-opacity="0.18" stroke-width="0.8"/>
<circle cx="237.3" cy="535.2" r="2.55" fill="#000" fill-opacity="0.26" stroke="#000" stroke-opacity="0.18" stroke-width="0.8"/>
<circle cx="240.8" cy="535.2" r="2.55" fill="#000" fill-opacity="0.26" stroke="#000" stroke-opacity="0.18" stroke-width="0.8"/>
<circle cx="257.6" cy="482.5" r="2.55" fill="#000" fill-opacity="0.26" stroke="#000" stroke-opacity="0.18" stroke-width="0.8"/>
<circle cx="255.0" cy="495.6" r="2.55" fill="#000" fill-opacity="0.26" stroke="#000" stroke-opacity="0.18" stroke-width="0.8"/>
<circle cx="263.1" cy="508.8" r="2.55" fill="#000" fill-opacity="0.26" stroke="#000" stroke-opacity="0.18" stroke-width="0.8"/>
<circle cx="255.6" cy="522.0" r="2.55" fill="#000" fill-opacity="0.26" stroke="#000" stroke-opacity="0.18" stroke-width="0.8"/>
<circle cx="265.1" cy="522.0" r="2.55" fill="#000" fill-opacity="0.26" stroke="#000" stroke-opacity="0.18" stroke-width="0.8"/>
<circle cx="256.4" cy="535.2" r="2.55" fill="#000" fill-opacity="0.26" stroke="#000" stroke-opacity="0.18" stroke-width="0.8"/>
<circle cx="264.5" cy="561.2" r="2.55" fill="#000" fill-opacity="0.26" stroke="#000" stroke-opacity="0.18" stroke-width="0.8"/>
<line x1="61.1" y1="351.4" x2="61.1" y2="641.4" stroke="#000" stroke-width="2.4"/>
<line x1="60.1" y1="640.4" x2="293.7" y2="640.4" stroke="#000" stroke-width="2.4"/>
<line x1="57.1" y1="627.2" x2="61.1" y2="627.2" stroke="#111" stroke-width="1.3"/>
<text transform="translate(54.6,632.7)" font-size="15" text-anchor="end" fill="#111">150</text>
<line x1="57.1" y1="561.5" x2="61.1" y2="561.5" stroke="#111" stroke-width="1.3"/>
<text transform="translate(54.6,567.0)" font-size="15" text-anchor="end" fill="#111">155</text>
<line x1="57.1" y1="495.8" x2="61.1" y2="495.8" stroke="#111" stroke-width="1.3"/>
<text transform="translate(54.6,501.3)" font-size="15" text-anchor="end" fill="#111">160</text>
<line x1="57.1" y1="430.1" x2="61.1" y2="430.1" stroke="#111" stroke-width="1.3"/>
<text transform="translate(54.6,435.6)" font-size="15" text-anchor="end" fill="#111">165</text>
<line x1="57.1" y1="364.4" x2="61.1" y2="364.4" stroke="#111" stroke-width="1.3"/>
<text transform="translate(54.6,369.9)" font-size="15" text-anchor="end" fill="#111">170</text>
<line x1="124.5" y1="640.4" x2="124.5" y2="643.9" stroke="#111" stroke-width="1.3"/>
<text transform="translate(124.5,657.4)" font-size="15" text-anchor="middle" fill="#111">T1</text>
<line x1="230.2" y1="640.4" x2="230.2" y2="643.9" stroke="#111" stroke-width="1.3"/>
<text transform="translate(230.2,657.4)" font-size="15" text-anchor="middle" fill="#111">T3</text>
<line x1="393.6" y1="461.1" x2="393.6" y2="469.4" stroke="#222" stroke-width="1.25"/>
<line x1="393.6" y1="522.2" x2="393.6" y2="548.0" stroke="#222" stroke-width="1.25"/>
<rect x="384.7" y="469.4" width="17.9" height="52.8" fill="#5f5b51" stroke="#222" stroke-width="1.25"/>
<line x1="384.7" y1="487.1" x2="402.6" y2="487.1" stroke="#1c1c1c" stroke-width="2.3"/>
<line x1="413.5" y1="461.1" x2="413.5" y2="476.8" stroke="#222" stroke-width="1.25"/>
<line x1="413.5" y1="495.7" x2="413.5" y2="522.2" stroke="#222" stroke-width="1.25"/>
<rect x="404.6" y="476.8" width="17.9" height="18.9" fill="#a2e29c" stroke="#222" stroke-width="1.25"/>
<line x1="404.6" y1="477.9" x2="422.4" y2="477.9" stroke="#1c1c1c" stroke-width="2.3"/>
<line x1="433.3" y1="461.1" x2="433.3" y2="469.4" stroke="#222" stroke-width="1.25"/>
<line x1="433.3" y1="504.5" x2="433.3" y2="513.2" stroke="#222" stroke-width="1.25"/>
<rect x="424.4" y="469.4" width="17.9" height="35.1" fill="#52b598" stroke="#222" stroke-width="1.25"/>
<line x1="424.4" y1="482.7" x2="442.2" y2="482.7" stroke="#1c1c1c" stroke-width="2.3"/>
<line x1="453.2" y1="452.4" x2="453.2" y2="460.7" stroke="#222" stroke-width="1.25"/>
<line x1="453.2" y1="489.0" x2="453.2" y2="504.5" stroke="#222" stroke-width="1.25"/>
<rect x="444.2" y="460.7" width="17.9" height="28.3" fill="#9ea934" stroke="#222" stroke-width="1.25"/>
<line x1="444.2" y1="469.4" x2="462.1" y2="469.4" stroke="#1c1c1c" stroke-width="2.3"/>
<line x1="499.7" y1="461.1" x2="499.7" y2="467.2" stroke="#222" stroke-width="1.25"/>
<line x1="499.7" y1="472.3" x2="499.7" y2="477.8" stroke="#222" stroke-width="1.25"/>
<rect x="490.8" y="467.2" width="17.9" height="5.1" fill="#5f5b51" stroke="#222" stroke-width="1.25"/>
<line x1="490.8" y1="469.6" x2="508.7" y2="469.6" stroke="#1c1c1c" stroke-width="2.3"/>
<line x1="519.6" y1="452.3" x2="519.6" y2="460.6" stroke="#222" stroke-width="1.25"/>
<line x1="519.6" y1="480.2" x2="519.6" y2="486.6" stroke="#222" stroke-width="1.25"/>
<rect x="510.7" y="460.6" width="17.9" height="19.6" fill="#a2e29c" stroke="#222" stroke-width="1.25"/>
<line x1="510.7" y1="477.8" x2="528.5" y2="477.8" stroke="#1c1c1c" stroke-width="2.3"/>
<line x1="539.4" y1="443.6" x2="539.4" y2="452.0" stroke="#222" stroke-width="1.25"/>
<line x1="539.4" y1="480.6" x2="539.4" y2="512.9" stroke="#222" stroke-width="1.25"/>
<rect x="530.5" y="452.0" width="17.9" height="28.6" fill="#52b598" stroke="#222" stroke-width="1.25"/>
<line x1="530.5" y1="469.4" x2="548.3" y2="469.4" stroke="#1c1c1c" stroke-width="2.3"/>
<line x1="559.3" y1="434.5" x2="559.3" y2="460.6" stroke="#222" stroke-width="1.25"/>
<line x1="559.3" y1="478.2" x2="559.3" y2="504.6" stroke="#222" stroke-width="1.25"/>
<rect x="550.3" y="460.6" width="17.9" height="17.6" fill="#9ea934" stroke="#222" stroke-width="1.25"/>
<line x1="550.3" y1="469.4" x2="568.2" y2="469.4" stroke="#1c1c1c" stroke-width="2.3"/>
<circle cx="388.0" cy="460.8" r="2.55" fill="#000" fill-opacity="0.26" stroke="#000" stroke-opacity="0.18" stroke-width="0.8"/>
<circle cx="395.9" cy="460.8" r="2.55" fill="#000" fill-opacity="0.26" stroke="#000" stroke-opacity="0.18" stroke-width="0.8"/>
<circle cx="391.0" cy="469.4" r="2.55" fill="#000" fill-opacity="0.26" stroke="#000" stroke-opacity="0.18" stroke-width="0.8"/>
<circle cx="386.7" cy="478.4" r="2.55" fill="#000" fill-opacity="0.26" stroke="#000" stroke-opacity="0.18" stroke-width="0.8"/>
<circle cx="398.3" cy="487.1" r="2.55" fill="#000" fill-opacity="0.26" stroke="#000" stroke-opacity="0.18" stroke-width="0.8"/>
<circle cx="388.3" cy="513.4" r="2.55" fill="#000" fill-opacity="0.26" stroke="#000" stroke-opacity="0.18" stroke-width="0.8"/>
<circle cx="396.7" cy="522.0" r="2.55" fill="#000" fill-opacity="0.26" stroke="#000" stroke-opacity="0.18" stroke-width="0.8"/>
<circle cx="394.0" cy="530.9" r="2.55" fill="#000" fill-opacity="0.26" stroke="#000" stroke-opacity="0.18" stroke-width="0.8"/>
<circle cx="388.3" cy="548.3" r="2.55" fill="#000" fill-opacity="0.26" stroke="#000" stroke-opacity="0.18" stroke-width="0.8"/>
<circle cx="407.1" cy="460.8" r="2.55" fill="#000" fill-opacity="0.26" stroke="#000" stroke-opacity="0.18" stroke-width="0.8"/>
<circle cx="411.9" cy="469.4" r="2.55" fill="#000" fill-opacity="0.26" stroke="#000" stroke-opacity="0.18" stroke-width="0.8"/>
<circle cx="420.6" cy="469.4" r="2.55" fill="#000" fill-opacity="0.26" stroke="#000" stroke-opacity="0.18" stroke-width="0.8"/>
<circle cx="408.7" cy="477.9" r="2.55" fill="#000" fill-opacity="0.26" stroke="#000" stroke-opacity="0.18" stroke-width="0.8"/>
<circle cx="417.4" cy="477.9" r="2.55" fill="#000" fill-opacity="0.26" stroke="#000" stroke-opacity="0.18" stroke-width="0.8"/>
<circle cx="417.9" cy="487.1" r="2.55" fill="#000" fill-opacity="0.26" stroke="#000" stroke-opacity="0.18" stroke-width="0.8"/>
<circle cx="408.4" cy="495.7" r="2.55" fill="#000" fill-opacity="0.26" stroke="#000" stroke-opacity="0.18" stroke-width="0.8"/>
<circle cx="415.4" cy="495.7" r="2.55" fill="#000" fill-opacity="0.26" stroke="#000" stroke-opacity="0.18" stroke-width="0.8"/>
<circle cx="412.7" cy="504.6" r="2.55" fill="#000" fill-opacity="0.26" stroke="#000" stroke-opacity="0.18" stroke-width="0.8"/>
<circle cx="413.1" cy="522.0" r="2.55" fill="#000" fill-opacity="0.26" stroke="#000" stroke-opacity="0.18" stroke-width="0.8"/>
<circle cx="439.7" cy="460.8" r="2.55" fill="#000" fill-opacity="0.26" stroke="#000" stroke-opacity="0.18" stroke-width="0.8"/>
<circle cx="434.0" cy="469.4" r="2.55" fill="#000" fill-opacity="0.26" stroke="#000" stroke-opacity="0.18" stroke-width="0.8"/>
<circle cx="439.7" cy="469.4" r="2.55" fill="#000" fill-opacity="0.26" stroke="#000" stroke-opacity="0.18" stroke-width="0.8"/>
<circle cx="428.1" cy="478.4" r="2.55" fill="#000" fill-opacity="0.26" stroke="#000" stroke-opacity="0.18" stroke-width="0.8"/>
<circle cx="439.3" cy="487.1" r="2.55" fill="#000" fill-opacity="0.26" stroke="#000" stroke-opacity="0.18" stroke-width="0.8"/>
<circle cx="431.8" cy="495.7" r="2.55" fill="#000" fill-opacity="0.26" stroke="#000" stroke-opacity="0.18" stroke-width="0.8"/>
<circle cx="427.5" cy="504.6" r="2.55" fill="#000" fill-opacity="0.26" stroke="#000" stroke-opacity="0.18" stroke-width="0.8"/>
<circle cx="433.4" cy="504.6" r="2.55" fill="#000" fill-opacity="0.26" stroke="#000" stroke-opacity="0.18" stroke-width="0.8"/>
<circle cx="429.7" cy="513.2" r="2.55" fill="#000" fill-opacity="0.26" stroke="#000" stroke-opacity="0.18" stroke-width="0.8"/>
<circle cx="435.4" cy="513.2" r="2.55" fill="#000" fill-opacity="0.26" stroke="#000" stroke-opacity="0.18" stroke-width="0.8"/>
<circle cx="447.7" cy="451.9" r="2.55" fill="#000" fill-opacity="0.26" stroke="#000" stroke-opacity="0.18" stroke-width="0.8"/>
<circle cx="460.1" cy="451.9" r="2.55" fill="#000" fill-opacity="0.26" stroke="#000" stroke-opacity="0.18" stroke-width="0.8"/>
<circle cx="454.9" cy="460.8" r="2.55" fill="#000" fill-opacity="0.26" stroke="#000" stroke-opacity="0.18" stroke-width="0.8"/>
<circle cx="448.8" cy="469.4" r="2.55" fill="#000" fill-opacity="0.26" stroke="#000" stroke-opacity="0.18" stroke-width="0.8"/>
<circle cx="457.3" cy="487.1" r="2.55" fill="#000" fill-opacity="0.26" stroke="#000" stroke-opacity="0.18" stroke-width="0.8"/>
<circle cx="453.6" cy="495.9" r="2.55" fill="#000" fill-opacity="0.26" stroke="#000" stroke-opacity="0.18" stroke-width="0.8"/>
<circle cx="448.8" cy="504.6" r="2.55" fill="#000" fill-opacity="0.26" stroke="#000" stroke-opacity="0.18" stroke-width="0.8"/>
<circle cx="453.0" cy="504.6" r="2.55" fill="#000" fill-opacity="0.26" stroke="#000" stroke-opacity="0.18" stroke-width="0.8"/>
<circle cx="499.5" cy="434.5" r="2.55" fill="#000" fill-opacity="0.26" stroke="#000" stroke-opacity="0.18" stroke-width="0.8"/>
<circle cx="493.1" cy="443.2" r="2.55" fill="#000" fill-opacity="0.26" stroke="#000" stroke-opacity="0.18" stroke-width="0.8"/>
<circle cx="503.1" cy="460.8" r="2.55" fill="#000" fill-opacity="0.26" stroke="#000" stroke-opacity="0.18" stroke-width="0.8"/>
<circle cx="495.5" cy="478.3" r="2.55" fill="#000" fill-opacity="0.26" stroke="#000" stroke-opacity="0.18" stroke-width="0.8"/>
<circle cx="498.7" cy="487.1" r="2.55" fill="#000" fill-opacity="0.26" stroke="#000" stroke-opacity="0.18" stroke-width="0.8"/>
<circle cx="492.4" cy="495.9" r="2.55" fill="#000" fill-opacity="0.26" stroke="#000" stroke-opacity="0.18" stroke-width="0.8"/>
<circle cx="490.5" cy="469.5" r="2.55" fill="#000" fill-opacity="0.26" stroke="#000" stroke-opacity="0.18" stroke-width="0.8"/>
<circle cx="494.5" cy="469.5" r="2.55" fill="#000" fill-opacity="0.26" stroke="#000" stroke-opacity="0.18" stroke-width="0.8"/>
<circle cx="499.0" cy="469.5" r="2.55" fill="#000" fill-opacity="0.26" stroke="#000" stroke-opacity="0.18" stroke-width="0.8"/>
<circle cx="502.0" cy="469.5" r="2.55" fill="#000" fill-opacity="0.26" stroke="#000" stroke-opacity="0.18" stroke-width="0.8"/>
<circle cx="505.0" cy="469.5" r="2.55" fill="#000" fill-opacity="0.26" stroke="#000" stroke-opacity="0.18" stroke-width="0.8"/>
<circle cx="521.1" cy="452.0" r="2.55" fill="#000" fill-opacity="0.26" stroke="#000" stroke-opacity="0.18" stroke-width="0.8"/>
<circle cx="524.7" cy="452.0" r="2.55" fill="#000" fill-opacity="0.26" stroke="#000" stroke-opacity="0.18" stroke-width="0.8"/>
<circle cx="522.2" cy="460.6" r="2.55" fill="#000" fill-opacity="0.26" stroke="#000" stroke-opacity="0.18" stroke-width="0.8"/>
<circle cx="526.2" cy="460.6" r="2.55" fill="#000" fill-opacity="0.26" stroke="#000" stroke-opacity="0.18" stroke-width="0.8"/>
<circle cx="524.7" cy="487.1" r="2.55" fill="#000" fill-opacity="0.26" stroke="#000" stroke-opacity="0.18" stroke-width="0.8"/>
<circle cx="512.7" cy="522.2" r="2.55" fill="#000" fill-opacity="0.26" stroke="#000" stroke-opacity="0.18" stroke-width="0.8"/>
<circle cx="512.0" cy="477.8" r="2.55" fill="#000" fill-opacity="0.26" stroke="#000" stroke-opacity="0.18" stroke-width="0.8"/>
<circle cx="520.0" cy="477.8" r="2.55" fill="#000" fill-opacity="0.26" stroke="#000" stroke-opacity="0.18" stroke-width="0.8"/>
<circle cx="526.0" cy="477.8" r="2.55" fill="#000" fill-opacity="0.26" stroke="#000" stroke-opacity="0.18" stroke-width="0.8"/>
<circle cx="534.2" cy="452.0" r="2.55" fill="#000" fill-opacity="0.26" stroke="#000" stroke-opacity="0.18" stroke-width="0.8"/>
<circle cx="544.3" cy="443.2" r="2.55" fill="#000" fill-opacity="0.26" stroke="#000" stroke-opacity="0.18" stroke-width="0.8"/>
<circle cx="537.1" cy="460.6" r="2.55" fill="#000" fill-opacity="0.26" stroke="#000" stroke-opacity="0.18" stroke-width="0.8"/>
<circle cx="534.2" cy="469.4" r="2.55" fill="#000" fill-opacity="0.26" stroke="#000" stroke-opacity="0.18" stroke-width="0.8"/>
<circle cx="544.7" cy="469.4" r="2.55" fill="#000" fill-opacity="0.26" stroke="#000" stroke-opacity="0.18" stroke-width="0.8"/>
<circle cx="542.5" cy="477.8" r="2.55" fill="#000" fill-opacity="0.26" stroke="#000" stroke-opacity="0.18" stroke-width="0.8"/>
<circle cx="534.5" cy="487.1" r="2.55" fill="#000" fill-opacity="0.26" stroke="#000" stroke-opacity="0.18" stroke-width="0.8"/>
<circle cx="533.1" cy="504.6" r="2.55" fill="#000" fill-opacity="0.26" stroke="#000" stroke-opacity="0.18" stroke-width="0.8"/>
<circle cx="532.3" cy="513.4" r="2.55" fill="#000" fill-opacity="0.26" stroke="#000" stroke-opacity="0.18" stroke-width="0.8"/>
<circle cx="564.2" cy="434.5" r="2.55" fill="#000" fill-opacity="0.26" stroke="#000" stroke-opacity="0.18" stroke-width="0.8"/>
<circle cx="558.1" cy="443.2" r="2.55" fill="#000" fill-opacity="0.26" stroke="#000" stroke-opacity="0.18" stroke-width="0.8"/>
<circle cx="557.3" cy="460.6" r="2.55" fill="#000" fill-opacity="0.26" stroke="#000" stroke-opacity="0.18" stroke-width="0.8"/>
<circle cx="565.3" cy="460.6" r="2.55" fill="#000" fill-opacity="0.26" stroke="#000" stroke-opacity="0.18" stroke-width="0.8"/>
<circle cx="555.0" cy="469.4" r="2.55" fill="#000" fill-opacity="0.26" stroke="#000" stroke-opacity="0.18" stroke-width="0.8"/>
<circle cx="564.5" cy="469.4" r="2.55" fill="#000" fill-opacity="0.26" stroke="#000" stroke-opacity="0.18" stroke-width="0.8"/>
<circle cx="553.7" cy="478.3" r="2.55" fill="#000" fill-opacity="0.26" stroke="#000" stroke-opacity="0.18" stroke-width="0.8"/>
<circle cx="563.7" cy="478.3" r="2.55" fill="#000" fill-opacity="0.26" stroke="#000" stroke-opacity="0.18" stroke-width="0.8"/>
<circle cx="560.5" cy="487.1" r="2.55" fill="#000" fill-opacity="0.26" stroke="#000" stroke-opacity="0.18" stroke-width="0.8"/>
<circle cx="553.7" cy="504.6" r="2.55" fill="#000" fill-opacity="0.26" stroke="#000" stroke-opacity="0.18" stroke-width="0.8"/>
<line x1="359.9" y1="351.4" x2="359.9" y2="641.4" stroke="#000" stroke-width="2.4"/>
<line x1="358.9" y1="640.4" x2="593.0" y2="640.4" stroke="#000" stroke-width="2.4"/>
<line x1="355.9" y1="627.2" x2="359.9" y2="627.2" stroke="#111" stroke-width="1.3"/>
<text transform="translate(353.4,632.7)" font-size="15" text-anchor="end" fill="#111">120</text>
<line x1="355.9" y1="539.6" x2="359.9" y2="539.6" stroke="#111" stroke-width="1.3"/>
<text transform="translate(353.4,545.1)" font-size="15" text-anchor="end" fill="#111">130</text>
<line x1="355.9" y1="452.0" x2="359.9" y2="452.0" stroke="#111" stroke-width="1.3"/>
<text transform="translate(353.4,457.5)" font-size="15" text-anchor="end" fill="#111">140</text>
<line x1="355.9" y1="364.4" x2="359.9" y2="364.4" stroke="#111" stroke-width="1.3"/>
<text transform="translate(353.4,369.9)" font-size="15" text-anchor="end" fill="#111">150</text>
<line x1="423.5" y1="640.4" x2="423.5" y2="643.9" stroke="#111" stroke-width="1.3"/>
<text transform="translate(423.5,657.4)" font-size="15" text-anchor="middle" fill="#111">T1</text>
<line x1="529.1" y1="640.4" x2="529.1" y2="643.9" stroke="#111" stroke-width="1.3"/>
<text transform="translate(529.1,657.4)" font-size="15" text-anchor="middle" fill="#111">T3</text>
<text x="6.6" y="18.9" font-size="17" font-weight="bold" fill="#000" style="stroke-width:0.1px">A</text>
<text x="306.5" y="18.9" font-size="17" font-weight="bold" fill="#000" style="stroke-width:0.1px">B</text>
<text x="6.6" y="363.0" font-size="17" font-weight="bold" fill="#000" style="stroke-width:0.1px">C</text>
<text x="305.6" y="363.0" font-size="17" font-weight="bold" fill="#000" style="stroke-width:0.1px">D</text>
<text transform="translate(21.0,151.7) rotate(-90)" x="0" y="0" font-size="19" text-anchor="middle" fill="#111">Glucose [mg/dL]</text>
<text transform="translate(320.3,151.2) rotate(-90)" x="0" y="0" font-size="19" text-anchor="middle" fill="#111">Cortisol [ng/µL]</text>
<text transform="translate(21.5,496.2) rotate(-90)" x="0" y="0" font-size="19" text-anchor="middle" fill="#111">Na+ [mmol/L]</text>
<text transform="translate(320.5,495.8) rotate(-90)" x="0" y="0" font-size="19" text-anchor="middle" fill="#111">Cl- [mmol/L]</text>
<text x="288.1" y="23.8" font-size="9.3" text-anchor="end" fill="#111" style="stroke-width:0.08px">ANOVA p &lt; 0.001</text>
<text x="580.3" y="23.6" font-size="9.3" text-anchor="end" fill="#111" style="stroke-width:0.08px">ANOVA p &lt; 0.001</text>
<text x="281.0" y="366.5" font-size="9.3" text-anchor="end" fill="#111" style="stroke-width:0.08px">ANOVA p = 0.004</text>
<text x="579.8" y="366.8" font-size="9.3" text-anchor="end" fill="#111" style="stroke-width:0.08px">ANOVA p = 0.003</text>
<text x="328.9" y="681.5" font-size="19.3" text-anchor="middle" fill="#111">Timepoint</text>
<text x="611.3" y="308.2" font-size="19" fill="#111">Diet</text>
<line x1="616.3" y1="318.0" x2="616.3" y2="334.0" stroke="#333" stroke-width="1.1"/>
<rect x="608.6" y="321.1" width="15.6" height="9.8" fill="#5f5b51" stroke="#333" stroke-width="1.1"/>
<line x1="608.6" y1="326.0" x2="624.2" y2="326.0" stroke="#2a2a2a" stroke-width="1.6"/>
<circle cx="616.3" cy="326.0" r="2.6" fill="#222" fill-opacity="0.55"/>
<text x="633.2" y="331.1" font-size="15" fill="#111">CD</text>
<line x1="616.3" y1="338.7" x2="616.3" y2="354.7" stroke="#333" stroke-width="1.1"/>
<rect x="608.6" y="341.8" width="15.6" height="9.8" fill="#a2e29c" stroke="#333" stroke-width="1.1"/>
<line x1="608.6" y1="346.7" x2="624.2" y2="346.7" stroke="#2a2a2a" stroke-width="1.6"/>
<circle cx="616.3" cy="346.7" r="2.6" fill="#222" fill-opacity="0.55"/>
<text x="633.2" y="351.8" font-size="15" fill="#111">CV2</text>
<line x1="616.3" y1="359.4" x2="616.3" y2="375.4" stroke="#333" stroke-width="1.1"/>
<rect x="608.6" y="362.5" width="15.6" height="9.8" fill="#52b598" stroke="#333" stroke-width="1.1"/>
<line x1="608.6" y1="367.4" x2="624.2" y2="367.4" stroke="#2a2a2a" stroke-width="1.6"/>
<circle cx="616.3" cy="367.4" r="2.6" fill="#222" fill-opacity="0.55"/>
<text x="633.2" y="372.5" font-size="15" fill="#111">CV14</text>
<line x1="616.3" y1="380.1" x2="616.3" y2="396.1" stroke="#333" stroke-width="1.1"/>
<rect x="608.6" y="383.2" width="15.6" height="9.8" fill="#9ea934" stroke="#333" stroke-width="1.1"/>
<line x1="608.6" y1="388.1" x2="624.2" y2="388.1" stroke="#2a2a2a" stroke-width="1.6"/>
<circle cx="616.3" cy="388.1" r="2.6" fill="#222" fill-opacity="0.55"/>
<text x="633.2" y="393.2" font-size="15" fill="#111">CV14w</text>
<rect x="29.41" y="199.18" width="3.68" height="3.77" fill="#fff"/>
<rect x="34.92" y="199.18" width="3.56" height="3.77" fill="#fff"/>
<rect x="29.41" y="111.68" width="3.68" height="3.77" fill="#fff"/>
<rect x="34.92" y="111.68" width="3.56" height="3.77" fill="#fff"/>
<rect x="104.44" y="311.08" width="3.68" height="3.77" fill="#fff"/>
<rect x="109.95" y="311.08" width="3.56" height="3.77" fill="#fff"/>
<rect x="328.21" y="220.98" width="3.68" height="3.77" fill="#fff"/>
<rect x="333.72" y="220.98" width="3.56" height="3.77" fill="#fff"/>
<rect x="423.74" y="311.08" width="3.68" height="3.77" fill="#fff"/>
<rect x="429.25" y="311.08" width="3.56" height="3.77" fill="#fff"/>
<rect x="29.41" y="630.58" width="3.68" height="3.77" fill="#fff"/>
<rect x="34.92" y="630.58" width="3.56" height="3.77" fill="#fff"/>
<rect x="29.41" y="564.88" width="3.68" height="3.77" fill="#fff"/>
<rect x="34.92" y="564.88" width="3.56" height="3.77" fill="#fff"/>
<rect x="29.41" y="499.18" width="3.68" height="3.77" fill="#fff"/>
<rect x="34.92" y="499.18" width="3.56" height="3.77" fill="#fff"/>
<rect x="29.41" y="433.48" width="3.68" height="3.77" fill="#fff"/>
<rect x="34.92" y="433.48" width="3.56" height="3.77" fill="#fff"/>
<rect x="29.41" y="367.78" width="3.68" height="3.77" fill="#fff"/>
<rect x="34.92" y="367.78" width="3.56" height="3.77" fill="#fff"/>
<rect x="124.74" y="655.28" width="3.68" height="3.77" fill="#fff"/>
<rect x="130.25" y="655.28" width="3.56" height="3.77" fill="#fff"/>
<rect x="328.21" y="630.58" width="3.68" height="3.77" fill="#fff"/>
<rect x="333.72" y="630.58" width="3.56" height="3.77" fill="#fff"/>
<rect x="328.21" y="542.98" width="3.68" height="3.77" fill="#fff"/>
<rect x="333.72" y="542.98" width="3.56" height="3.77" fill="#fff"/>
<rect x="328.21" y="455.38" width="3.68" height="3.77" fill="#fff"/>
<rect x="333.72" y="455.38" width="3.56" height="3.77" fill="#fff"/>
<rect x="328.21" y="367.78" width="3.68" height="3.77" fill="#fff"/>
<rect x="333.72" y="367.78" width="3.56" height="3.77" fill="#fff"/>
<rect x="423.74" y="655.28" width="3.68" height="3.77" fill="#fff"/>
<rect x="429.25" y="655.28" width="3.56" height="3.77" fill="#fff"/>
<rect x="653.87" y="370.38" width="3.68" height="3.77" fill="#fff"/>
<rect x="659.38" y="370.38" width="3.56" height="3.77" fill="#fff"/>
<rect x="653.87" y="391.08" width="3.68" height="3.77" fill="#fff"/>
<rect x="659.38" y="391.08" width="3.56" height="3.77" fill="#fff"/>
</svg></body></html>
